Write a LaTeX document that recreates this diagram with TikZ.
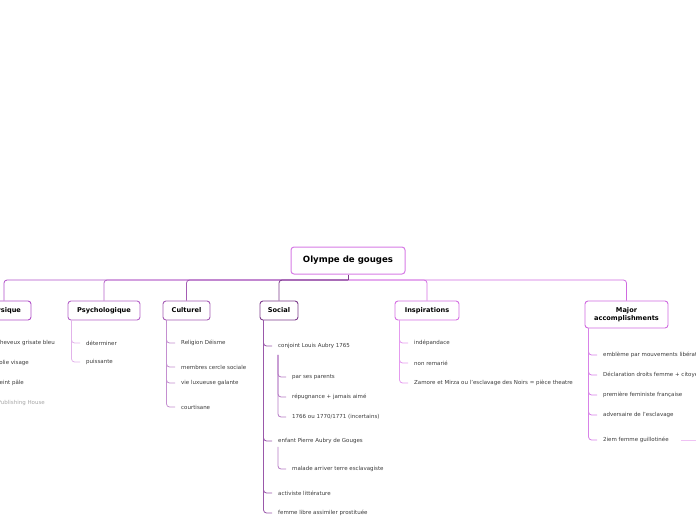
\documentclass[tikz,border=0pt]{standalone}
\usepackage{fontspec}
\setmainfont{DejaVu Sans}
\definecolor{rootc}{HTML}{D77BE6}
\definecolor{physc}{HTML}{B050C8}
\definecolor{psyc}{HTML}{B563C8}
\definecolor{culc}{HTML}{A45CB4}
\definecolor{socc}{HTML}{7D3C8C}
\definecolor{insc}{HTML}{D46EE2}
\definecolor{majc}{HTML}{CF6AE0}
\definecolor{physl}{HTML}{C47AD2}
\definecolor{psyl}{HTML}{E2B3EA}
\definecolor{cull}{HTML}{C48FD0}
\definecolor{socl}{HTML}{9A58AA}
\definecolor{socsubl}{HTML}{B57AC4}
\definecolor{insl}{HTML}{E59BEF}
\definecolor{majl}{HTML}{D883E8}
\definecolor{majr}{HTML}{EFC2F4}
\definecolor{leaftxt}{HTML}{3A3A3A}
\begin{document}
\begin{tikzpicture}[x=1pt,y=-1pt,
  rootbox/.style={draw=rootc, line width=1pt, rounded corners=3pt, fill=white,
    minimum width=114pt, minimum height=27pt, inner sep=0pt,
    font=\fontsize{8.6}{10}\selectfont\bfseries},
  topic/.style={line width=0.9pt, rounded corners=3pt, fill=white,
    minimum height=19pt, inner sep=0pt, text=black,
    font=\fontsize{6.6}{8}\selectfont\bfseries},
  leaf/.style={anchor=west, inner xsep=6pt, inner ysep=1pt, text=leaftxt,
    font=\fontsize{5.5}{6.5}\selectfont},
  link/.style={line width=0.8pt, rounded corners=3pt}]
\useasboundingbox (0,0) rectangle (696,520);
\clip (0,0) rectangle (696,520);

% main topics
\node[rootbox] (root) at (348,260.5) {Olympe de gouges};
\node[topic, draw=physc, minimum width=54pt] (phys) at (4,310.5) {Physique};
\node[topic, draw=psyc, minimum width=72pt] (psy) at (104,310.5) {Psychologique};
\node[topic, draw=culc, minimum width=47pt] (cul) at (186.5,310.5) {Culturel};
\node[topic, draw=socc, minimum width=38pt] (soc) at (279,310.5) {Social};
\node[topic, draw=insc, minimum width=64pt] (ins) at (427,310.5) {Inspirations};
\node[topic, draw=majc, minimum width=83pt, minimum height=27pt, align=center] (maj) at (626.5,314.5) {Major\\accomplishments};

% root connectors (far ones first)
\path (root.south) ++(0,5.5) coordinate (hub);
\draw[link, physc] (hub) -| (phys.north);
\draw[link, psyc] (hub) -| (psy.north);
\draw[link, culc] (hub) -| (cul.north);
\draw[link, socc] (hub) -| (soc.north);
\draw[link, majc] (hub) -| (maj.north);
\draw[link, insc] (hub) -| (ins.north);
\draw[line width=0.8pt, socc] (root.south) -- (hub);

% Physique leaves
\node[leaf, anchor=east, inner xsep=0pt] (ph1) at (55,343) {cheveux grisate bleu};
\node[leaf, anchor=east, inner xsep=0pt] (ph2) at (29,363) {jolie visage};
\node[leaf, anchor=east, inner xsep=0pt] (ph3) at (24,383) {teint pâle};
\node[leaf, anchor=east, inner xsep=0pt, text=black!35] (ph4) at (45,403) {Publishing House};
\foreach \n in {ph1,ph2,ph3,ph4}
  \draw[link, physl] ([xshift=4pt]phys.south west) |- ([xshift=-6pt]\n.west);

% Psychologique leaves
\node[leaf] (ps1) at (80,343) {déterminer};
\node[leaf] (ps2) at (80,362) {puissante};
\foreach \n in {ps1,ps2}
  \draw[link, psyl] ([xshift=4pt]psy.south west) |- (\n.west);

% Culturel leaves
\node[leaf] (c1) at (175,343) {Religion Déisme};
\node[leaf] (c2) at (175,367) {membres cercle sociale};
\node[leaf] (c3) at (175,383) {vie luxueuse galante};
\node[leaf] (c4) at (175,407) {courtisane};
\foreach \n in {c1,c2,c3,c4}
  \draw[link, cull] ([xshift=4pt]cul.south west) |- (\n.west);

% Social leaves
\node[leaf] (s1) at (272,346) {conjoint Louis Aubry 1765};
\node[leaf] (s2) at (272,441) {enfant Pierre Aubry de Gouges};
\node[leaf] (s3) at (272,493) {activiste littérature};
\node[leaf] (s4) at (272,513) {femme libre assimiler prostituée};
\foreach \n in {s1,s2,s3,s4}
  \draw[link, socl] ([xshift=4pt]soc.south west) |- (\n.west);

\node[leaf] (s11) at (286,377) {par ses parents};
\node[leaf] (s12) at (286,397) {répugnance + jamais aimé};
\node[leaf] (s13) at (286,417) {1766 ou 1770/1771 (incertains)};
\foreach \n in {s11,s12,s13}
  \draw[link, socsubl] ([xshift=6pt,yshift=-5pt]s1.south west) |- (\n.west);

\node[leaf] (s21) at (286,469) {malade arriver terre esclavagiste};
\draw[link, socsubl] ([xshift=6pt,yshift=-2pt]s2.south west) |- (s21.west);

% Inspirations leaves
\node[leaf] (i1) at (408,343) {indépandace};
\node[leaf] (i2) at (408,363) {non remarié};
\node[leaf] (i3) at (408,383) {Zamore et Mirza ou l'esclavage des Noirs = pièce theatre};
\foreach \n in {i1,i2,i3}
  \draw[link, insl] ([xshift=5pt]ins.south west) |- (\n.west);

% Major accomplishments leaves
\node[leaf] (m1) at (597,355) {emblème par mouvements libération};
\node[leaf] (m2) at (597,375) {Déclaration droits femme + citoyenne};
\node[leaf] (m3) at (597,395) {première feministe française};
\node[leaf] (m4) at (597,415) {adversaire de l'esclavage};
\node[leaf] (m5) at (597,440) {2iem femme guillotinée};
\foreach \n in {m1,m2,m3,m4,m5}
  \draw[link, majl] ([xshift=4pt]maj.south west) |- (\n.west);

\coordinate (offr) at (700,440);
\draw[link, majr] (m5.east) ++(6,0) -- (offr);
\end{tikzpicture}
\end{document}
